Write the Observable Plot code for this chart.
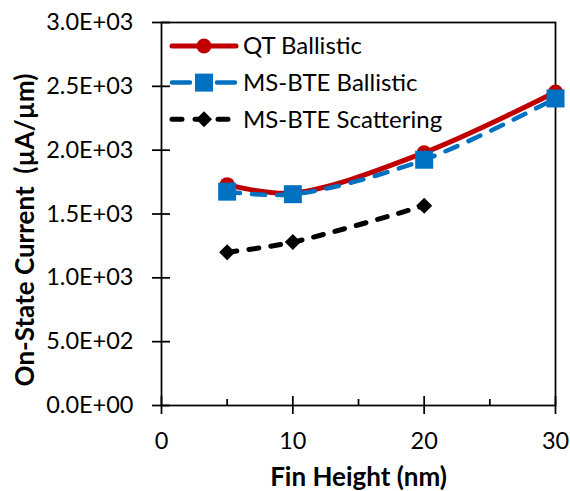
<!DOCTYPE html>
<html>
<head>
<meta charset="utf-8">
<script src="https://cdn.jsdelivr.net/npm/d3@7"></script>
<script src="https://cdn.jsdelivr.net/npm/@observablehq/plot@0.6"></script>
<style>
  html, body { margin: 0; padding: 0; background: white; }
  #chart { width: 570px; height: 491px; overflow: hidden; }
</style>
</head>
<body>
<div id="chart"></div>
<script>
// ---- data ----
const finHeight = [5, 10, 20, 30];
const qtBallistic = [1730, 1665, 1980, 2455];
const msBallistic = [1675, 1655, 1925, 2405];
const scatterHeight = [5, 10, 20];
const msScattering = [1200, 1280, 1565];

const seriesNames = ["QT Ballistic", "MS-BTE Ballistic", "MS-BTE Scattering"];
const xTicks = [0, 10, 20, 30];
const xMinorTicks = [5, 15, 25];
const yTicks = [0, 500, 1000, 1500, 2000, 2500, 3000];
const xTitle = "Fin Height (nm)";
const yTitle = "On-State Current  (µA/µm)";

// ---- build tables ----
const qtData = finHeight.map((x, i) => ({x, y: qtBallistic[i]}));
const msData = finHeight.map((x, i) => ({x, y: msBallistic[i]}));
const scData = scatterHeight.map((x, i) => ({x, y: msScattering[i]}));

const fmt = v => {
  if (v === 0) return "0.0E+00";
  const e = Math.floor(Math.log10(v));
  const m = v / Math.pow(10, e);
  return m.toFixed(1) + "E+" + String(e).padStart(2, "0");
};

const diamond = {
  draw(ctx, size) {
    const h = Math.sqrt(size / 2);
    ctx.moveTo(0, -h); ctx.lineTo(h, 0); ctx.lineTo(0, h); ctx.lineTo(-h, 0); ctx.closePath();
  }
};

const RED = "#C00000", BLUE = "#0070C0", BLACK = "#000000";
const AX = 1.75;
const TICK_FS = 23.5, TITLE_FS = 26, LEG_FS = 24;

const chart = Plot.plot({
  width: 570, height: 491,
  marginLeft: 161, marginRight: 15, marginTop: 22, marginBottom: 86,
  x: {domain: [0, 30]},
  y: {domain: [0, 3000]},
  style: {fontFamily: "Lato, sans-serif", fontSize: TICK_FS + "px", color: "black", background: "white"},
  marks: [
    Plot.frame({stroke: "black", strokeWidth: AX}),
    Plot.axisY(yTicks, {tickSize: 9, tickPadding: 19, tickFormat: fmt, strokeWidth: AX, label: null, fontSize: TICK_FS}),
    Plot.axisY(yTicks, {tickSize: -9, text: null, label: null, strokeWidth: AX}),
    Plot.axisX(xTicks, {tickSize: 9, tickPadding: 18, strokeWidth: AX, label: null, fontSize: TICK_FS}),
    Plot.axisX(xTicks, {tickSize: -9, text: null, label: null, strokeWidth: AX}),
    Plot.axisX(xMinorTicks, {tickSize: -6, text: null, label: null, strokeWidth: AX}),
    // QT Ballistic
    Plot.line(qtData, {x: "x", y: "y", stroke: RED, strokeWidth: 5, curve: "catmull-rom", strokeLinecap: "round"}),
    Plot.dot(qtData, {x: "x", y: "y", fill: RED, r: 7.5, symbol: "circle"}),
    // MS-BTE Ballistic
    Plot.line(msData, {x: "x", y: "y", stroke: BLUE, strokeWidth: 4.5, curve: "catmull-rom", strokeDasharray: "13,12", strokeLinecap: "round"}),
    Plot.dot(msData, {x: "x", y: "y", fill: BLUE, r: 10.15, symbol: "square"}),
    // MS-BTE Scattering
    Plot.line(scData, {x: "x", y: "y", stroke: BLACK, strokeWidth: 5, curve: "catmull-rom", strokeDasharray: "10,12", strokeLinecap: "round"}),
    Plot.dot(scData, {x: "x", y: "y", fill: BLACK, r: 6.4, symbol: diamond}),
    // axis titles
    Plot.text([yTitle], {text: d => d, frameAnchor: "left", textAnchor: "middle", lineAnchor: "middle", dx: -136, dy: 16, rotate: -90, fontWeight: "bold", fontSize: TITLE_FS}),
    Plot.text([xTitle], {text: d => d, frameAnchor: "bottom", textAnchor: "middle", lineAnchor: "middle", dy: 72, fontWeight: "bold", fontSize: TITLE_FS})
  ]
});

// ---- legend (inside plot area) ----
const svg = d3.select(chart);
const leg = svg.append("g").attr("font-family", "Lato, sans-serif").attr("font-size", LEG_FS).attr("text-anchor", "start");
const rows = [
  {name: seriesNames[0], color: RED, dash: null, w: 5, sym: d3.symbolCircle, size: Math.PI * 7.5 * 7.5},
  {name: seriesNames[1], color: BLUE, dash: "18,27", w: 4.5, sym: d3.symbolSquare, size: 18 * 18},
  {name: seriesNames[2], color: BLACK, dash: "10,13", w: 5, sym: diamond, size: 128}
];
rows.forEach((r, i) => {
  const y = 46 + i * 36.6;
  leg.append("line").attr("x1", 172).attr("x2", 236).attr("y1", y).attr("y2", y)
    .attr("stroke", r.color).attr("stroke-width", r.w).attr("stroke-linecap", "round")
    .attr("stroke-dasharray", r.dash);
  leg.append("path").attr("d", d3.symbol(r.sym, r.size)()).attr("transform", `translate(204,${y})`).attr("fill", r.color);
  leg.append("text").attr("x", 243).attr("y", y).attr("dy", "0.35em").attr("fill", "black").attr("text-anchor", "start").text(r.name);
});

document.getElementById("chart").appendChild(chart);
</script>
</body>
</html>
